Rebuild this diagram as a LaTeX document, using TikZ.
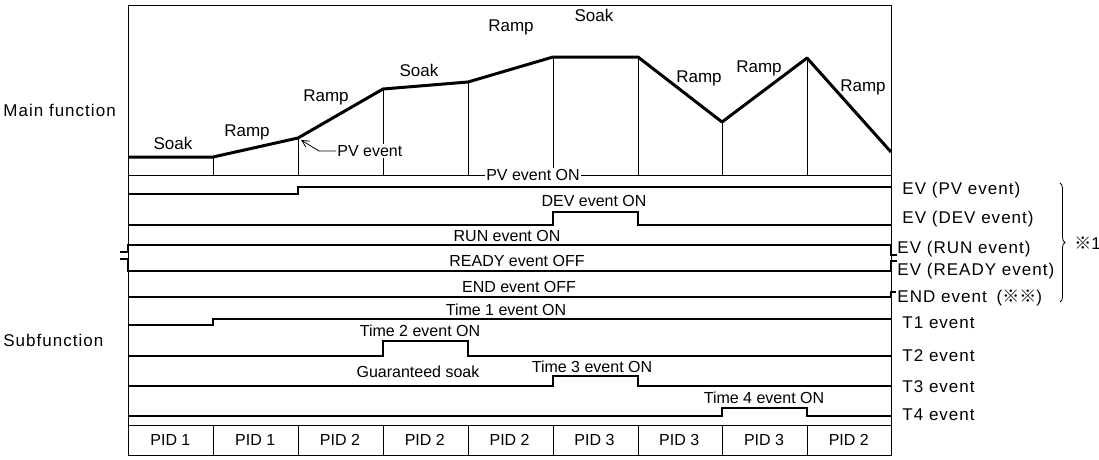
\documentclass[tikz,border=0pt]{standalone}
\usepackage{fontspec}
\setmainfont{Liberation Sans}
\newfontfamily\cjk{Noto Sans CJK JP}
\usetikzlibrary{arrows.meta, positioning, calc, decorations.pathreplacing}
\tikzset{
  every picture/.style={font=\fontsize{16}{18}\selectfont, line width=0.8pt},
  signal/.style={line width=2.4pt, line join=miter},
  profile/.style={line width=3pt, line join=round},
  lbl/.style={font=\fontsize{16}{18}\selectfont, inner sep=1pt},
  stage/.style={font=\fontsize{17}{19}\selectfont, inner sep=1pt},
  side/.style={font=\fontsize{17}{19}\selectfont\addfontfeature{LetterSpace=6}, anchor=west, inner sep=0pt},
}

\begin{document}
\begin{tikzpicture}[x=1pt, y=-1pt,
  pvarrow/.style={-{Straight Barb[length=2.5mm, width=2.5mm]}, line width=0.8pt},
  pidbox/.style={lbl, minimum width=84pt}]
  \fill[white] (0,0) rectangle (1099,459);
  \useasboundingbox (0,0) rectangle (1099,459);
  % frame and baseline of the main function
  \draw (128,5) -- (891,5);
  \draw (128,5) -- (128,455);  \draw (891,5) -- (891,455);
  \draw (128,175) -- (891,175);
  \foreach \x/\y in {213/157, 298/138, 383/89, 468/82, 553/57, 638/57, 722/122, 807/58} \draw (\x,\y) -- (\x,175);
  % program profile
  \draw[profile] (128,157) -- (213,157) -- (298,138) -- (383,89) -- (468,82) -- (553,57) -- (638,57) -- (722,122) -- (807,58) -- (891,152);
  \node[stage] (soak1) at (173,143) {Soak};   \node[stage] (ramp1) at (247,132) {Ramp};
  \node[stage] (ramp2) at (326,97) {Ramp};    \node[stage] (soak2) at (419,70) {Soak};
  \node[stage] (ramp3) at (511,27) {Ramp};    \node[stage] (soak3) at (594,15) {Soak};
  \node[stage] (ramp4) at (699,78) {Ramp};    \node[stage] (ramp5) at (759,68) {Ramp};
  \node[stage] (ramp6) at (863,87) {Ramp};
  \coordinate (pvpt) at (301,140);
  \node[lbl, fill=white, anchor=west] (pvlbl) at (336,151) {PV event};
  \draw[pvarrow] (pvlbl.west) -- ++(-17,0) -- (pvpt);
  \node[lbl, fill=white] (pvon) at (533,175) {PV event ON};
  % event outputs
  \draw[signal] (128,194) -- (298,194) -- (298,187) -- (891,187);
  \draw[signal] (128,225) -- (553,225) -- (553,212) -- (638,212) -- (638,225) -- (891,225);
  \node[lbl] (devon) at (594,201) {DEV event ON};
  \draw[signal] (120,252) -- (128,252) -- (128,245) -- (891,245) -- (891,255) -- (897,255);
  \node[lbl] (runon) at (507,236) {RUN event ON};
  \draw[signal] (120,259) -- (128,259) -- (128,271) -- (891,271) -- (891,261) -- (897,261);
  \node[lbl] (readyoff) at (517,261) {READY event OFF};
  \draw[signal] (128,297) -- (891,297) -- (891,292) -- (896,292);
  \node[lbl] (endoff) at (519,287) {END event OFF};
  % time events
  \draw[signal] (128,325) -- (213,325) -- (213,319) -- (891,319);
  \node[lbl] (t1on) at (506,310) {Time 1 event ON};
  \draw[signal] (128,356) -- (383,356) -- (383,341) -- (468,341) -- (468,356) -- (891,356);
  \node[lbl] (t2on) at (420,331) {Time 2 event ON};
  \node[lbl] (gsoak) at (418,372) {Guaranteed soak};
  \draw[signal] (128,386) -- (553,386) -- (553,376) -- (638,376) -- (638,386) -- (891,386);
  \node[lbl] (t3on) at (592,367) {Time 3 event ON};
  \draw[signal] (128,416) -- (722,416) -- (722,408) -- (807,408) -- (807,416) -- (891,416);
  \node[lbl] (t4on) at (764,398) {Time 4 event ON};
  % PID row
  \draw (128,425) rectangle (891,455);
  \foreach \x in {213,298,383,468,553,638,722,807} \draw (\x,425) -- (\x,455);
  \foreach \t [count=\i] in {1,1,2,2,2,3,3,3,2} \node[pidbox] (pid\i) at ({128+84.8*(\i-0.5)},440) {PID \t};
  % side labels
  \node[side] (mainfn) at (3,110) {Main function};
  \node[side] (subfn) at (3,340) {Subfunction};
  \node[side] (evpv) at (902,190) {EV (PV event)};
  \node[side] (evdev) at (902,219) {EV (DEV event)};
  \node[side] (evrun) at (897,249) {EV (RUN event)};
  \node[side] (evready) at (897,271) {EV (READY event)};
  \node[side] (evend) at (897,298) {END event\hspace{10pt}({\cjk ※※})};
  \node[side] (t1ev) at (902,323) {T1 event};
  \node[side] (t2ev) at (902,356) {T2 event};
  \node[side] (t3ev) at (902,387) {T3 event};
  \node[side] (t4ev) at (902,415) {T4 event};
  \draw[decorate, decoration={brace, amplitude=5pt}] (1060,183) -- (1060,302);
  \node[side] (note1) at (1074,243) {{\cjk ※}1};
\end{tikzpicture}
\end{document}
